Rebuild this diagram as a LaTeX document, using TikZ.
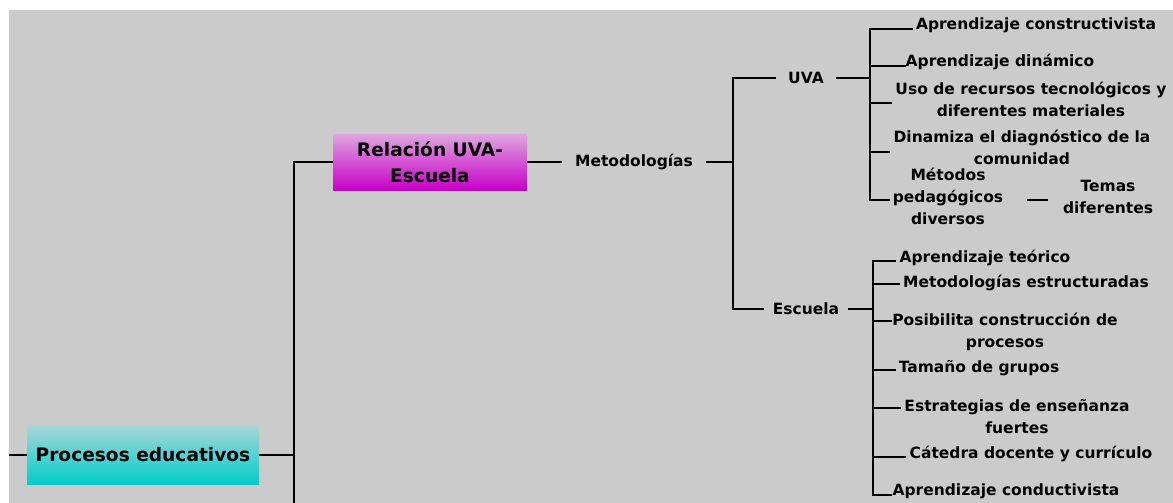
\documentclass[tikz,border=0pt]{standalone}
\usepackage{fontspec}
\setmainfont{DejaVu Sans}
\definecolor{bggray}{RGB}{203,203,203}
\definecolor{magtop}{RGB}{222,166,222}
\definecolor{magbot}{RGB}{200,0,200}
\definecolor{cyantop}{RGB}{168,214,214}
\definecolor{cyanbot}{RGB}{0,204,204}
\begin{document}
\begin{tikzpicture}[x=1pt,y=-1pt,
  txt/.style={font=\bfseries\fontsize{15.5}{22}\selectfont, align=center, inner xsep=3pt, inner ysep=0pt, text=black},
  mid/.style={txt, inner xsep=10pt},
  boxtxt/.style={font=\bfseries\fontsize{18.6}{26}\selectfont, align=center, inner sep=0pt, text=black},
  relbox/.style={boxtxt, top color=magtop, bottom color=magbot, minimum width=194pt, minimum height=56pt},
  procbox/.style={boxtxt, top color=cyantop, bottom color=cyanbot, minimum width=232pt, minimum height=59pt},
  ln/.style={line width=2.2pt, black}]
\useasboundingbox (0,0) rectangle (1173,503);
\fill[white] (0,0) rectangle (1173,503);
\fill[bggray] (9,10) rectangle (1173,503);

% main boxes
\node[procbox] (proc) at (143,455) {Procesos educativos};
\node[relbox] (rel) at (430,162) {Relación UVA-\\Escuela};
\coordinate (lstart) at (9,455);
\coordinate (jbot) at (294,503);
\draw[ln] (lstart) -- (proc.west);
\draw[ln] (proc.east) -| (jbot);
\draw[ln] (jbot) |- (rel.west);

% metodologias
\node[mid, inner xsep=13pt] (met) at (634,162) {Metodologías};
\coordinate (jm) at (733,162);
\draw[ln] (rel.east) -- (met.west);
\draw[ln] (met.east) -- (jm);
\node[mid, inner xsep=12pt] (uva) at (806,78) {UVA};
\node[mid, inner xsep=9pt] (esc) at (806,309) {Escuela};
\draw[ln] (uva.west) -| (jm) |- (esc.west);

% UVA children
\node[txt] (c1) at (1036,25) {Aprendizaje constructivista};
\node[txt, inner xsep=0pt] (c2) at (1000,62) {Aprendizaje dinámico};
\node[txt] (c3) at (1031,99) {Uso de recursos tecnológicos y\\diferentes materiales};
\node[txt] (c4) at (1022,147) {Dinamiza el diagnóstico de la\\comunidad};
\node[txt] (c5) at (948,196) {Métodos\\pedagógicos\\diversos};
\node[txt] (c6) at (1108,197) {Temas\\diferentes};
\coordinate (ju) at (870,78);
\coordinate (u1) at (870,29);
\coordinate (u2) at (870,66);
\coordinate (u3) at (870,103);
\coordinate (u4) at (870,152);
\coordinate (u5) at (870,200);
\draw[ln] (uva.east) -- (ju);
\draw[ln] (u1 -| c1.west) -- (u1) -- (u5) -- (u5 -| c5.west);
\draw[ln] (u2) -- (u2 -| c2.west);
\draw[ln] (u3) -- (u3 -| c3.west);
\draw[ln] (u4) -- (u4 -| c4.west);
\draw[ln, shorten <=21pt, shorten >=12pt] (c5.east |- u5) -- (c6.west |- u5);

% Escuela children
\node[txt] (e1) at (985,258) {Aprendizaje teórico};
\node[txt] (e2) at (1026,283) {Metodologías estructuradas};
\node[txt, inner xsep=0pt] (e3) at (1005,332) {Posibilita construcción de\\procesos};
\node[txt] (e4) at (979,368) {Tamaño de grupos};
\node[txt] (e5) at (1017,417) {Estrategias de enseñanza\\fuertes};
\node[txt] (e6) at (1031,454) {Cátedra docente y currículo};
\node[txt, inner xsep=0pt] (e7) at (1006,491) {Aprendizaje conductivista};
\coordinate (je) at (873,309);
\coordinate (s1) at (873,261);
\coordinate (s2) at (873,284);
\coordinate (s3) at (873,321);
\coordinate (s4) at (873,370);
\coordinate (s5) at (873,408);
\coordinate (s6) at (873,457);
\coordinate (s7) at (873,495);
\draw[ln] (esc.east) -- (je);
\draw[ln] (s1 -| e1.west) -- (s1) -- (s7) -- (s7 -| e7.west);
\draw[ln] (s2) -- (s2 -| e2.west);
\draw[ln] (s3) -- (s3 -| e3.west);
\draw[ln] (s4) -- (s4 -| e4.west);
\draw[ln] (s5) -- (s5 -| e5.west);
\draw[ln] (s6) -- (s6 -| e6.west);
\end{tikzpicture}
\end{document}
